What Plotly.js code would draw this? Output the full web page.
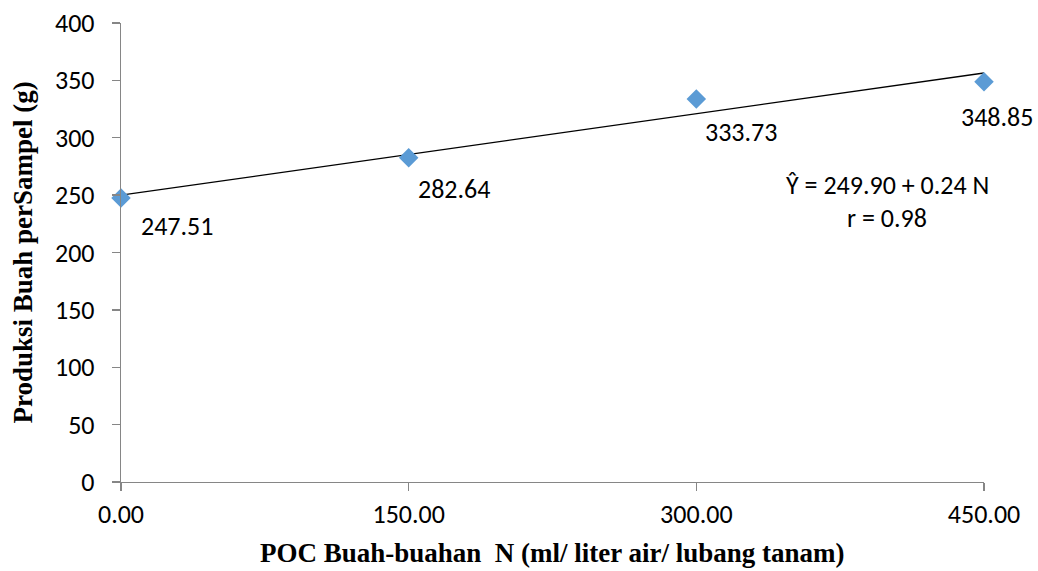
<!DOCTYPE html>
<html>
<head>
<meta charset="utf-8">
<script src="https://cdn.plot.ly/plotly-3.0.1.min.js"></script>
<style>
  html, body { margin: 0; padding: 0; background: #ffffff; }
  #chart { width: 1038px; height: 571px; }
</style>
</head>
<body>
<div id="chart"></div>
<script>
// ---- data ----
var doseN = [0, 150, 300, 450];
var production = [247.51, 282.64, 333.73, 348.85];
var pointLabels = ["247.51", "282.64", "333.73", "348.85"];
var xTickVals = [0, 150, 300, 450];
var xTickText = ["0.00", "150.00", "300.00", "450.00"];
var yTickVals = [0, 50, 100, 150, 200, 250, 300, 350, 400];
var equationText = "Ŷ = 249.90 + 0.24 N";
var rText = "r = 0.98";
var xTitle = "POC Buah-buahan  N (ml/ liter air/ lubang tanam)";
var yTitle = "Produksi Buah perSampel (g)";

// least-squares trend line from the data
function linFit(xs, ys) {
  var n = xs.length, mx = 0, my = 0;
  for (var i = 0; i < n; i++) { mx += xs[i]; my += ys[i]; }
  mx /= n; my /= n;
  var sxy = 0, sxx = 0;
  for (var j = 0; j < n; j++) { sxy += (xs[j] - mx) * (ys[j] - my); sxx += (xs[j] - mx) * (xs[j] - mx); }
  var b = sxy / sxx;
  return { a: my - b * mx, b: b };
}
var fit = linFit(doseN, production);
var trendX = [doseN[0], doseN[doseN.length - 1]];
var trendY = trendX.map(function (x) { return fit.a + fit.b * x; });

var numFont = "Carlito, Open Sans, sans-serif";
var titleFont = "Liberation Serif, Times New Roman, serif";
var axisColor = "#868686";
var numSize = 26;

var traces = [
  {
    x: trendX, y: trendY, type: "scatter", mode: "lines",
    line: { color: "#000000", width: 1.3 }, hoverinfo: "skip", showlegend: false,
    cliponaxis: false
  },
  {
    x: doseN, y: production, type: "scatter", mode: "markers",
    marker: { symbol: "diamond", size: 15, color: "#5B9BD5" },
    showlegend: false, cliponaxis: false
  }
];

// label offsets (pixels) relative to each marker
var labelDx = [56, 45, 45, 13];
var labelDy = [-28, -31, -33, -35];
var annotations = doseN.map(function (x, i) {
  return {
    x: x, y: production[i], xref: "x", yref: "y",
    text: pointLabels[i], showarrow: false,
    xanchor: "center", yanchor: "middle",
    xshift: labelDx[i], yshift: labelDy[i],
    font: { family: numFont, size: numSize, color: "#000000" }
  };
});
annotations.push({
  xref: "paper", yref: "paper", x: (887 - 121) / 863, y: (482 - 185) / 459,
  text: equationText, showarrow: false, xanchor: "center", yanchor: "middle",
  font: { family: numFont, size: numSize, color: "#000000" }
});
annotations.push({
  xref: "paper", yref: "paper", x: (887 - 121) / 863, y: (482 - 218) / 459,
  text: rText, showarrow: false, xanchor: "center", yanchor: "middle",
  font: { family: numFont, size: numSize, color: "#000000" }
});
// axis titles
annotations.push({
  xref: "paper", yref: "paper", x: 0.5, y: (482 - 553) / 459,
  text: "<b>" + xTitle + "</b>", showarrow: false, xanchor: "center", yanchor: "middle",
  font: { family: titleFont, size: 27, color: "#000000" }
});
annotations.push({
  xref: "paper", yref: "paper", x: (22 - 121) / 863, y: 0.5, textangle: -90,
  text: "<b>" + yTitle + "</b>", showarrow: false, xanchor: "center", yanchor: "middle",
  font: { family: titleFont, size: 27, color: "#000000" }
});

var layout = {
  width: 1038, height: 571,
  margin: { l: 121, r: 54, t: 23, b: 89, pad: 0 },
  paper_bgcolor: "#ffffff", plot_bgcolor: "#ffffff",
  showlegend: false,
  xaxis: {
    range: [0, 450], tickvals: xTickVals, ticktext: xTickText,
    showgrid: false, zeroline: false, showline: true,
    linecolor: axisColor, linewidth: 1.3,
    ticks: "outside", ticklen: 8, tickcolor: axisColor, tickwidth: 1.3,
    tickfont: { family: numFont, size: numSize, color: "#000000" }
  },
  yaxis: {
    range: [0, 400], tickvals: yTickVals,
    showgrid: false, zeroline: false, showline: true,
    linecolor: axisColor, linewidth: 1.3,
    ticks: "outside", ticklen: 8, tickcolor: axisColor, tickwidth: 1.3,
    ticklabelstandoff: 12,
    tickfont: { family: numFont, size: numSize, color: "#000000" }
  },
  annotations: annotations
};

Plotly.newPlot("chart", traces, layout, { displayModeBar: false, staticPlot: true });
</script>
</body>
</html>
